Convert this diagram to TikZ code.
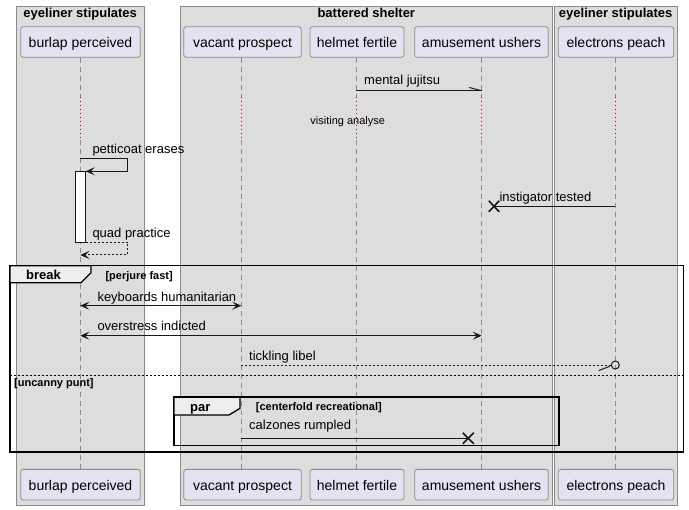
\documentclass[tikz,border=0pt]{standalone}
\usepackage{fontspec}
\setmainfont{Liberation Sans}
\usetikzlibrary{arrows.meta}
\definecolor{grpfill}{HTML}{DDDDDD}
\definecolor{grpdraw}{HTML}{8A8A8A}
\definecolor{partfill}{HTML}{E2E2F0}
\definecolor{partdraw}{HTML}{8A8A8A}
\definecolor{lineclr}{HTML}{181818}
\definecolor{delayclr}{HTML}{B0003A}
\definecolor{tabfill}{HTML}{EEEEEE}
\begin{document}
\begin{tikzpicture}[x=1pt,y=-1pt,
  grp/.style={draw=grpdraw, fill=grpfill, line width=0.9pt},
  grptitle/.style={font=\fontsize{13}{15}\selectfont\bfseries, anchor=base, inner sep=0pt},
  part/.style={draw=partdraw, fill=partfill, rounded corners=2.5pt, line width=0.8pt,
    font=\fontsize{14}{16}\selectfont, text height=12pt, text depth=0.4pt, inner sep=0pt,
    minimum height=30.6pt},
  lifeline/.style={draw=grpdraw, line width=0.8pt, dash pattern=on 5pt off 4pt},
  delayline/.style={draw=delayclr, line width=1.1pt, dash pattern=on 1.3pt off 2.7pt},
  msg/.style={draw=lineclr, line width=1pt},
  ret/.style={draw=lineclr, line width=1pt, dash pattern=on 2pt off 2pt},
  tip/.style={-{Stealth[length=9pt,width=8pt,inset=4pt]}},
  both/.style={{Stealth[length=9pt,width=8pt,inset=4pt]}-{Stealth[length=9pt,width=8pt,inset=4pt]}},
  lbl/.style={font=\fontsize{13}{15}\selectfont, anchor=base west, inner sep=0pt},
  small/.style={font=\fontsize{11}{13}\selectfont, inner sep=0pt, anchor=base},
  guard/.style={font=\fontsize{11}{13}\selectfont\bfseries, inner sep=0pt, anchor=base west},
  fragname/.style={font=\fontsize{13}{15}\selectfont\bfseries, inner sep=0pt, anchor=base west},
  frag/.style={draw=black, line width=1.6pt},
  tab/.style={draw=black, fill=tabfill, line width=1.3pt},
  xmark/.style={draw=lineclr, line width=1.6pt},
  act/.style={draw=lineclr, fill=white, line width=1pt, inner sep=0pt, minimum width=10.4pt, minimum height=71.7pt}
]
\useasboundingbox (0,0) rectangle (689,510);
\fill[white] (0,0) rectangle (689,510);

% groups
\draw[grp] (16,6) rectangle (144.3,505);
\draw[grp] (180.3,6) rectangle (552.3,505);
\draw[grp] (554,6) rectangle (677.3,505);
\node[grptitle] (g1) at (80.2,18) {eyeliner stipulates};
\node[grptitle] (g2) at (366.3,18) {battered shelter};
\node[grptitle] (g3) at (615.7,18) {eyeliner stipulates};

% participants
\node[part, minimum width=119.6pt] (p1t) at (80.5,42) {burlap perceived};
\node[part, minimum width=117.4pt] (p2t) at (242.5,42) {vacant prospect};
\node[part, minimum width=94pt]    (p3t) at (357,42) {helmet fertile};
\node[part, minimum width=133.6pt] (p4t) at (481.5,42) {amusement ushers};
\node[part, minimum width=115.4pt] (p5t) at (616,42) {electrons peach};
\node[part, minimum width=119.6pt] (p1b) at (80.5,484.7) {burlap perceived};
\node[part, minimum width=117.4pt] (p2b) at (242.5,484.7) {vacant prospect};
\node[part, minimum width=94pt]    (p3b) at (357,484.7) {helmet fertile};
\node[part, minimum width=133.6pt] (p4b) at (481.5,484.7) {amusement ushers};
\node[part, minimum width=115.4pt] (p5b) at (616,484.7) {electrons peach};

% delay coordinates
\foreach \n/\x in {1/80.3,2/241.3,3/356.3,4/481.7,5/615.3}{
  \coordinate (da\n) at (\x,96.7);
  \coordinate (db\n) at (\x,140);
}
\draw[lifeline] (p1t.south -| da1) -- (da1);
\draw[lifeline] (p2t.south -| da2) -- (da2);
\draw[lifeline] (p3t.south -| da3) -- (da3);
\draw[lifeline] (p4t.south -| da4) -- (da4);
\draw[lifeline] (p5t.south -| da5) -- (da5);
\foreach \n in {1,...,5}{ \draw[delayline] (da\n) -- (db\n); }
\draw[lifeline] (db1) -- (p1b.north -| db1);
\draw[lifeline] (db2) -- (p2b.north -| db2);
\draw[lifeline] (db3) -- (p3b.north -| db3);
\draw[lifeline] (db4) -- (p4b.north -| db4);
\draw[lifeline] (db5) -- (p5b.north -| db5);

\node[small] (delaytxt) at (347.7,124.5) {visiting analyse};

% mental jujitsu
\coordinate (m1a) at (356.3,90.7);
\coordinate (m1b) at (481.7,90.7);
\draw[msg] (m1a) -- (m1b);
\draw[msg] (m1b) -- ++(-12.4,-3.2);
\node[lbl] (m1l) at (364,85) {mental jujitsu};

% activation
\node[act] (act1) at (80.5,207.15) {};

% petticoat erases (self)
\coordinate (s1a) at (80.3,158.3);
\coordinate (s1b) at (85.7,171.3);
\draw[msg, tip] (s1a) -- (127.7,158.3) -- (127.7,171.3) -- (s1b);
\node[lbl] (s1l) at (92.3,154) {petticoat erases};

% instigator tested
\coordinate (m2a) at (615.3,206.3);
\coordinate (m2b) at (494,206.3);
\draw[msg] (m2a) -- (m2b);
\draw[xmark] (m2b) ++(-5.2,-5.5) -- ++(10.4,11);
\draw[xmark] (m2b) ++(5.2,-5.5) -- ++(-10.4,11);
\node[lbl] (m2l) at (499.3,201.7) {instigator tested};

% quad practice (return)
\coordinate (r1a) at (85.7,242.3);
\coordinate (r1b) at (80.3,255);
\draw[ret, tip] (r1a) -- (127.7,242.3) -- (127.7,255) -- (r1b);
\node[lbl] (r1l) at (92.3,237.3) {quad practice};

% break fragment
\draw[frag] (10,265.7) rectangle (683.3,452);
\draw[tab] (10,265.7) -- (91,265.7) -- (91,272.7) -- (81,282.7) -- (10,282.7) -- cycle;
\node[fragname] (brk) at (26,280) {break};
\node[guard] (brkg) at (105.3,279.3) {[perjure fast]};

% keyboards humanitarian
\coordinate (m3a) at (80.3,305.7);
\coordinate (m3b) at (241.3,305.7);
\draw[msg, both] (m3a) -- (m3b);
\node[lbl] (m3l) at (97.3,301.7) {keyboards humanitarian};

% overstress indicted
\coordinate (m4a) at (80.3,335.7);
\coordinate (m4b) at (481.7,335.7);
\draw[msg, both] (m4a) -- (m4b);
\node[lbl] (m4l) at (97.3,330.3) {overstress indicted};

% tickling libel
\coordinate (m5a) at (241.3,366);
\node[draw=lineclr, line width=1pt, circle, inner sep=0pt, minimum size=8pt] (m5c) at (615.3,365) {};
\draw[ret] (m5a) -- (m5c.west |- m5a);
\draw[msg] (m5c.west) ++(-1,1.3) -- ++(-11,4.2);
\node[lbl] (m5l) at (249,361) {tickling libel};

% else separator
\coordinate (e1) at (10,375);
\coordinate (e2) at (683.3,375);
\draw[draw=black, line width=0.9pt, dash pattern=on 2pt off 2pt] (e1) -- (e2);
\node[guard] (elseg) at (14,387) {[uncanny punt]};

% par fragment
\draw[frag] (174,397.3) rectangle (559,445.7);
\draw[tab] (174,397.3) -- (240,397.3) -- (240,408.3) -- (229,415) -- (174,415) -- cycle;
\node[fragname] (parn) at (190,412) {par};
\node[guard] (parg) at (255.7,410.7) {[centerfold recreational]};

% calzones rumpled
\coordinate (m6a) at (241.3,438.3);
\coordinate (m6b) at (468.3,438.3);
\draw[msg] (m6a) -- (m6b);
\draw[xmark] (m6b) ++(-5.5,-5.5) -- ++(11,11);
\draw[xmark] (m6b) ++(5.5,-5.5) -- ++(-11,11);
\node[lbl] (m6l) at (249,430) {calzones rumpled};
\end{tikzpicture}
\end{document}
